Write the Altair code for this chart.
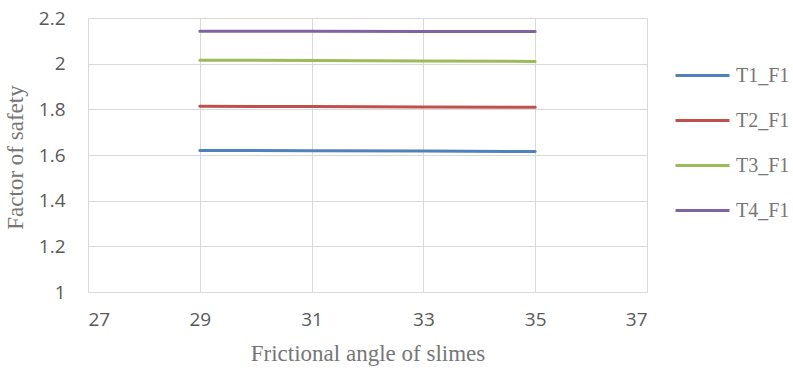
import altair as alt
import pandas as pd

angles = [29, 31, 33, 35]
series_names = ["T1_F1", "T2_F1", "T3_F1", "T4_F1"]
t1 = [1.620, 1.619, 1.617, 1.615]
t2 = [1.813, 1.812, 1.810, 1.809]
t3 = [2.015, 2.014, 2.012, 2.010]
t4 = [2.142, 2.142, 2.141, 2.141]
colors = ["#4F81BD", "#C0504D", "#9BBB59", "#8064A2"]
x_ticks = [27, 29, 31, 33, 35, 37]
y_ticks = [1, 1.2, 1.4, 1.6, 1.8, 2, 2.2]

rows = []
for name, vals in zip(series_names, [t1, t2, t3, t4]):
    for a, v in zip(angles, vals):
        rows.append({"angle": a, "fos": v, "series": name})
df = pd.DataFrame(rows)

chart = alt.Chart(df).mark_line(strokeWidth=3, strokeCap="round").encode(
    x=alt.X("angle:Q", scale=alt.Scale(domain=[27, 37], nice=False, zero=False),
            axis=alt.Axis(values=x_ticks, title="Frictional angle of slimes",
                          titleY=68, titleBaseline="alphabetic")),
    y=alt.Y("fos:Q", scale=alt.Scale(domain=[1, 2.2], nice=False, zero=False),
            axis=alt.Axis(values=y_ticks, format="~g", title="Factor of safety",
                          titleX=-73, titleY=139, titleAngle=270,
                          titleAlign="center", titleBaseline="middle")),
    color=alt.Color("series:N", scale=alt.Scale(domain=series_names, range=colors),
                    legend=alt.Legend(title=None, orient="none", legendX=586, legendY=45,
                                      symbolType="stroke", symbolSize=2916,
                                      symbolStrokeWidth=3, clipHeight=25, rowPadding=20,
                                      labelOffset=5, padding=0)),
).properties(
    width=559, height=274,
    autosize=alt.AutoSizeParams(type="none"),
    padding={"left": 88, "top": 18, "right": 146, "bottom": 82},
).configure_view(stroke=None).configure_axis(
    grid=True, gridColor="#d9d9d9", gridWidth=1,
    domainColor="#d9d9d9", domainWidth=1, ticks=False,
    labelFont="Open Sans", labelFontSize=19, labelColor="#595959",
    titleFont="Liberation Serif", titleFontSize=23, titleColor="#767676",
    titleFontWeight="normal",
).configure_axisX(labelPadding=18).configure_axisY(labelPadding=23).configure_legend(
    labelFont="Liberation Serif", labelFontSize=20, labelColor="#767676",
)

chart.save("out.html", embed_options={"renderer": "svg", "actions": False})
